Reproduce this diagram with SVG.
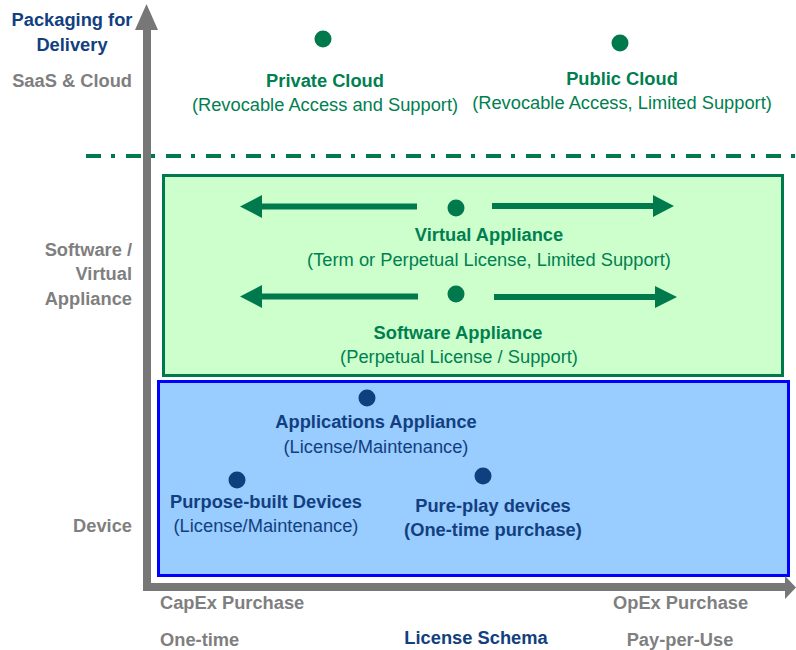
<svg xmlns="http://www.w3.org/2000/svg" width="796" height="650" viewBox="0 0 796 650">
<style>
text{font-family:"Liberation Sans",Arial,sans-serif;font-size:18.3px}
.b{font-weight:bold}
.m{text-anchor:middle}
.e{text-anchor:end}
.g{fill:#008050}
.n{fill:#12407F}
.gr{fill:#7F7F7F}
.dg{fill:#007A4D}
.dn{fill:#0F3F7C}
.axis{fill:#777777}
.arr{fill:#007A4D}
</style>
<rect width="796" height="650" fill="#FFFFFF"/>
<g id="sw-zone">
<rect x="163.5" y="175.5" width="619" height="200" fill="#CCFFCC" stroke="#007A4D" stroke-width="3"/>
</g>
<g id="device-zone">
<rect x="158.5" y="381.5" width="630" height="194" fill="#99CCFF" stroke="#0000FF" stroke-width="3"/>
</g>
<g id="axes">
<rect x="143" y="28" width="8" height="563" class="axis"/>
<polygon points="146.5,4 135,30 158,30" class="axis"/>
<rect x="143" y="583" width="644" height="8" class="axis"/>
<polygon points="796,587.5 785,576 785,599" class="axis"/>
</g>
<g id="divider">
<line x1="86" y1="156" x2="796" y2="156" stroke="#007A4D" stroke-width="4" stroke-dasharray="15 10 4 11"/>
</g>
<g id="connectors">
<polygon class="arr" points="240,206.5 262,195 262,203.5 417,203.5 417,209.5 262,209.5 262,218"/>
<polygon class="arr" points="674,206 653,195 653,203 492,203 492,209 653,209 653,217"/>
<polygon class="arr" points="240,296.5 262,285 262,293.5 418,293.5 418,299.5 262,299.5 262,308"/>
<polygon class="arr" points="677,297 655,286 655,294 494,294 494,300 655,300 655,308"/>
</g>
<g id="axis-labels">
<text x="72" y="26" class="b m n">Packaging for</text>
<text x="72" y="51" class="b m n">Delivery</text>
<text x="132" y="87" class="b e gr">SaaS &amp; Cloud</text>
<text x="132" y="256" class="b e gr">Software /</text>
<text x="132" y="280" class="b e gr">Virtual</text>
<text x="132" y="305" class="b e gr">Appliance</text>
<text x="132" y="532" class="b e gr">Device</text>
<text x="160" y="609" class="b gr">CapEx Purchase</text>
<text x="613" y="609" class="b gr">OpEx Purchase</text>
<text x="160" y="646" class="b gr">One-time</text>
<text x="476" y="644" class="b m n">License Schema</text>
<text x="680" y="646" class="b m gr">Pay-per-Use</text>
</g>
<g id="private-cloud">
<circle cx="323" cy="39" r="8.5" class="dg"/>
<text x="325" y="87" class="b m g">Private Cloud</text>
<text x="325" y="111" class="m g">(Revocable Access and Support)</text>
</g>
<g id="public-cloud">
<circle cx="620" cy="43" r="8.5" class="dg"/>
<text x="622" y="85" class="b m g">Public Cloud</text>
<text x="622" y="109" class="m g">(Revocable Access, Limited Support)</text>
</g>
<g id="virtual-appliance">
<circle cx="456" cy="208" r="8.5" class="dg"/>
<text x="489" y="241" class="b m g">Virtual Appliance</text>
<text x="489" y="266" class="m g">(Term or Perpetual License, Limited Support)</text>
</g>
<g id="software-appliance">
<circle cx="456" cy="294" r="8.5" class="dg"/>
<text x="458" y="339" class="b m g">Software Appliance</text>
<text x="459" y="363" class="m g">(Perpetual License / Support)</text>
</g>
<g id="applications-appliance">
<circle cx="367" cy="398" r="8.5" class="dn"/>
<text x="376" y="428" class="b m n">Applications Appliance</text>
<text x="376" y="453" class="m n">(License/Maintenance)</text>
</g>
<g id="purpose-built">
<circle cx="237" cy="480" r="8.5" class="dn"/>
<text x="266" y="508" class="b m n">Purpose-built Devices</text>
<text x="266" y="532" class="m n">(License/Maintenance)</text>
</g>
<g id="pure-play">
<circle cx="483" cy="476" r="8.5" class="dn"/>
<text x="493" y="512" class="b m n">Pure-play devices</text>
<text x="493" y="536" class="b m n">(One-time purchase)</text>
</g>
</svg>
